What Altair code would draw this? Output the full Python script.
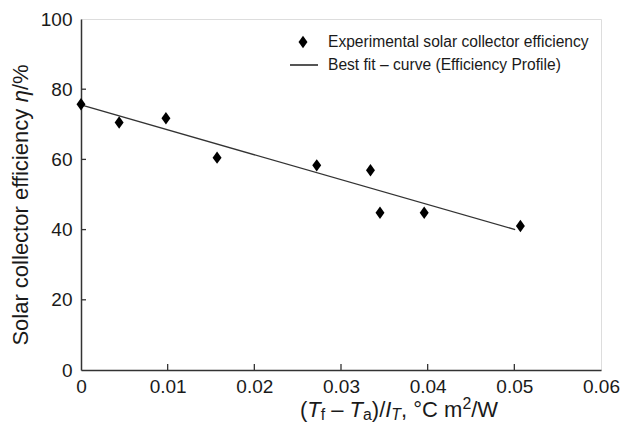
import altair as alt
import pandas as pd

# ---- data ----
x_exp = [0.0, 0.0044, 0.0098, 0.0157, 0.0272, 0.0334, 0.0345, 0.0396, 0.0507]
y_exp = [75.7, 70.5, 71.7, 60.5, 58.3, 56.9, 44.8, 44.8, 41.0]
fit_x = [0.0, 0.0501]
fit_y = [75.5, 40.0]
x_ticks = [0.0, 0.01, 0.02, 0.03, 0.04, 0.05, 0.06]
y_ticks = [0, 20, 40, 60, 80, 100]
legend_labels = ["Experimental solar collector efficiency",
                 "Best fit \u2013 curve (Efficiency Profile)"]

W, H = 520, 351
FONT = "Liberation Sans"
INK = "#1a1a1a"
AXC = "#333333"

# Arial / Liberation Sans advance widths (per 1000 em)
AW = {" ": 278, "(": 333, ")": 333, "/": 278, ",": 278, "%": 889, "\u00b0": 400,
      "\u2013": 556, "2": 556, "C": 722, "I": 278, "S": 667, "T": 611, "W": 944,
      "a": 556, "c": 500, "e": 556, "f": 278, "i": 222, "l": 222, "m": 833,
      "n": 556, "o": 556, "r": 333, "t": 278, "y": 500, "\u03b7": 556}


def tw(s, size):
    return sum(AW.get(ch, 556) for ch in s) * size / 1000.0


# ---- main layers ----
exp_df = pd.DataFrame({"x": x_exp, "y": y_exp})
fit_df = pd.DataFrame({"x": fit_x, "y": fit_y})

xscale = alt.Scale(domain=[0, 0.06], nice=False)
yscale = alt.Scale(domain=[0, 100], nice=False)

TICK_FS = 19
xaxis = alt.Axis(values=x_ticks, title=None, grid=False, ticks=False, tickSize=0,
                 labelFont=FONT, labelFontSize=TICK_FS, labelColor=INK, labelPadding=7,
                 labelFlush=False, domainColor=AXC, domainWidth=1.5,
                 labelExpr="datum.value == 0 ? '0' : format(datum.value, '.2f')")
yaxis = alt.Axis(values=y_ticks, title=None, grid=False, ticks=False, tickSize=0,
                 labelFont=FONT, labelFontSize=TICK_FS, labelColor=INK, labelPadding=9,
                 labelFlush=False, domainColor=AXC, domainWidth=1.5)

DIAMOND = "M0,-1L0.72,0L0,1L-0.72,0Z"

fit_line = alt.Chart(fit_df).mark_line(color="#333333", strokeWidth=1.3).encode(
    x=alt.X("x:Q", scale=xscale, axis=xaxis),
    y=alt.Y("y:Q", scale=yscale, axis=yaxis),
)

points = alt.Chart(exp_df).mark_point(
    shape=DIAMOND, filled=True, color="black", opacity=1, size=155
).encode(x="x:Q", y="y:Q")

# inward ticks
xt_df = pd.DataFrame({"x": x_ticks[1:-1]})
yt_df = pd.DataFrame({"y": y_ticks[1:-1]})
xtick = alt.Chart(xt_df).mark_rule(color=AXC, strokeWidth=1.3).encode(
    x="x:Q", y=alt.value(H), y2=alt.value(H - 6))
ytick = alt.Chart(yt_df).mark_rule(color=AXC, strokeWidth=1.3).encode(
    y="y:Q", x=alt.value(0), x2=alt.value(5))

# ---- legend (drawn by hand) ----
LEG_FS = 15.6
leg1 = alt.Chart(pd.DataFrame({"t": [legend_labels[0]]})).mark_text(
    align="left", baseline="middle", font=FONT, fontSize=LEG_FS, color=INK
).encode(text="t:N", x=alt.value(247), y=alt.value(23))
leg2 = alt.Chart(pd.DataFrame({"t": [legend_labels[1]]})).mark_text(
    align="left", baseline="middle", font=FONT, fontSize=LEG_FS, color=INK
).encode(text="t:N", x=alt.value(247), y=alt.value(46))
leg_sym = alt.Chart(pd.DataFrame({"k": [0]})).mark_point(
    shape=DIAMOND, filled=True, color="black", opacity=1, size=155
).encode(x=alt.value(222), y=alt.value(23))
leg_line = alt.Chart(pd.DataFrame({"k": [0]})).mark_rule(
    color="#555555", strokeWidth=2
).encode(x=alt.value(209), x2=alt.value(237), y=alt.value(46))

# ---- x-axis title with italics, sub- and superscripts ----
XFS = 22
SUB = 0.72
SP = tw(" ", XFS)
pieces = [  # text, style, kind, extra space after
    ("(", "normal", "n", 0), ("T", "italic", "n", 0), ("f", "normal", "sub", SP),
    ("\u2013", "normal", "n", SP), ("T", "italic", "n", 0), ("a", "normal", "sub", 0),
    (")/", "normal", "n", 0), ("I", "italic", "n", 0), ("T", "italic", "sub", 0),
    (",", "normal", "n", SP), ("\u00b0C", "normal", "n", SP), ("m", "normal", "n", 0),
    ("2", "normal", "sup", 0), ("/W", "normal", "n", 0),
]
widths = [tw(t, XFS * (SUB if k != "n" else 1)) + extra for t, s, k, extra in pieces]
total = sum(widths)
xc, base = 318, 398
cur = xc - total / 2
xt_layers = []
for (t, s, k, extra), wdt in zip(pieces, widths):
    fs = XFS * (SUB if k != "n" else 1)
    dy = {"n": 0, "sub": 3, "sup": -8}[k]
    xt_layers.append(
        alt.Chart(pd.DataFrame({"t": [t]})).mark_text(
            align="left", baseline="alphabetic", font=FONT, fontSize=fs,
            fontStyle=s, color=INK
        ).encode(text="t:N", x=alt.value(cur), y=alt.value(base + dy))
    )
    cur += wdt

# ---- y-axis title ----
YFS = 22
YSP = tw(" ", YFS)
ypieces = [("Solar collector efficiency", "normal", YSP), ("\u03b7", "italic", 0),
           ("/%", "normal", 0)]
ywid = [tw(t, YFS) + extra for t, s, extra in ypieces]
ytot = sum(ywid)
yc, xcol = 186, -60
cur = yc + ytot / 2
yt_layers = []
for (t, s, extra), wdt in zip(ypieces, ywid):
    yt_layers.append(
        alt.Chart(pd.DataFrame({"t": [t]})).mark_text(
            align="left", baseline="middle", font=FONT, fontSize=YFS,
            fontStyle=s, color=INK, angle=270
        ).encode(text="t:N", x=alt.value(xcol), y=alt.value(cur))
    )
    cur -= wdt

chart = alt.layer(
    fit_line, xtick, ytick, points, leg_sym, leg_line, leg1, leg2,
    *xt_layers, *yt_layers
).properties(
    width=W, height=H,
    autosize=alt.AutoSizeParams(type="none"),
    padding={"left": 73, "top": 11, "right": 19, "bottom": 54},
).configure_view(
    stroke=AXC, strokeWidth=1.5
).configure(background="white")

chart.save("out.html", embed_options={"renderer": "svg", "actions": False})
